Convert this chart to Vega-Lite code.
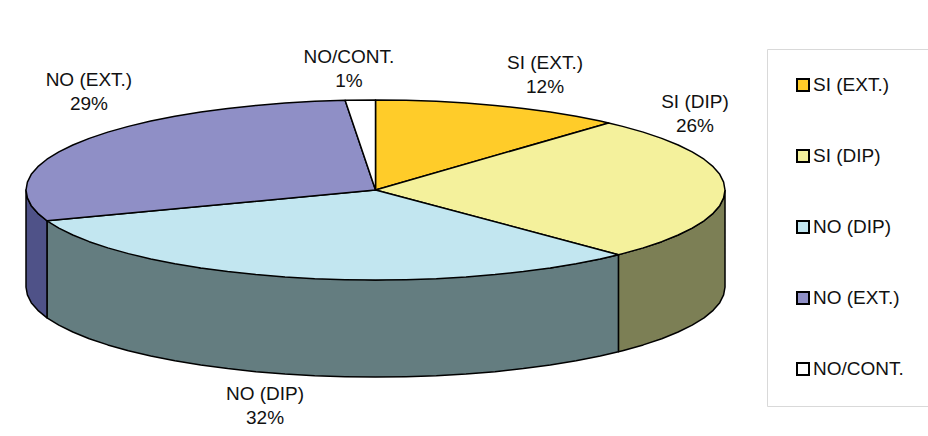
{"$schema":"https://vega.github.io/schema/vega-lite/v6.json","width":928,"height":436,"padding":0,"autosize":{"type":"none"},"background":"white","config":{"view":{"stroke":null},"font":"Liberation Sans"},
"datasets":{"faces":[
{"s":"SI (EXT.)","o":0,"x":0,"y":0},{"s":"SI (EXT.)","o":1,"x":0,"y":1},{"s":"SI (EXT.)","o":2,"x":0.087,"y":0.996},{"s":"SI (EXT.)","o":3,"x":0.174,"y":0.985},{"s":"SI (EXT.)","o":4,"x":0.259,"y":0.966},{"s":"SI (EXT.)","o":5,"x":0.342,"y":0.94},{"s":"SI (EXT.)","o":6,"x":0.423,"y":0.906},{"s":"SI (EXT.)","o":7,"x":0.5,"y":0.866},{"s":"SI (EXT.)","o":8,"x":0.574,"y":0.819},{"s":"SI (EXT.)","o":9,"x":0.643,"y":0.766},{"s":"SI (EXT.)","o":10,"x":0.667,"y":0.745},{"s":"SI (EXT.)","o":11,"x":0,"y":0},
{"s":"SI (DIP)","o":0,"x":0,"y":0},{"s":"SI (DIP)","o":1,"x":0.667,"y":0.745},{"s":"SI (DIP)","o":2,"x":0.707,"y":0.707},{"s":"SI (DIP)","o":3,"x":0.766,"y":0.643},{"s":"SI (DIP)","o":4,"x":0.819,"y":0.574},{"s":"SI (DIP)","o":5,"x":0.866,"y":0.5},{"s":"SI (DIP)","o":6,"x":0.906,"y":0.423},{"s":"SI (DIP)","o":7,"x":0.94,"y":0.342},{"s":"SI (DIP)","o":8,"x":0.966,"y":0.259},{"s":"SI (DIP)","o":9,"x":0.985,"y":0.174},{"s":"SI (DIP)","o":10,"x":0.996,"y":0.087},{"s":"SI (DIP)","o":11,"x":1,"y":0},{"s":"SI (DIP)","o":12,"x":0.996,"y":-0.087},{"s":"SI (DIP)","o":13,"x":0.985,"y":-0.174},{"s":"SI (DIP)","o":14,"x":0.966,"y":-0.259},{"s":"SI (DIP)","o":15,"x":0.94,"y":-0.342},{"s":"SI (DIP)","o":16,"x":0.906,"y":-0.423},{"s":"SI (DIP)","o":17,"x":0.866,"y":-0.5},{"s":"SI (DIP)","o":18,"x":0.819,"y":-0.574},{"s":"SI (DIP)","o":19,"x":0.766,"y":-0.643},{"s":"SI (DIP)","o":20,"x":0.707,"y":-0.707},{"s":"SI (DIP)","o":21,"x":0.695,"y":-0.719},{"s":"SI (DIP)","o":22,"x":0,"y":0},
{"s":"NO (DIP)","o":0,"x":0,"y":0},{"s":"NO (DIP)","o":1,"x":0.695,"y":-0.719},{"s":"NO (DIP)","o":2,"x":0.643,"y":-0.766},{"s":"NO (DIP)","o":3,"x":0.574,"y":-0.819},{"s":"NO (DIP)","o":4,"x":0.5,"y":-0.866},{"s":"NO (DIP)","o":5,"x":0.423,"y":-0.906},{"s":"NO (DIP)","o":6,"x":0.342,"y":-0.94},{"s":"NO (DIP)","o":7,"x":0.259,"y":-0.966},{"s":"NO (DIP)","o":8,"x":0.174,"y":-0.985},{"s":"NO (DIP)","o":9,"x":0.087,"y":-0.996},{"s":"NO (DIP)","o":10,"x":0,"y":-1},{"s":"NO (DIP)","o":11,"x":-0.087,"y":-0.996},{"s":"NO (DIP)","o":12,"x":-0.174,"y":-0.985},{"s":"NO (DIP)","o":13,"x":-0.259,"y":-0.966},{"s":"NO (DIP)","o":14,"x":-0.342,"y":-0.94},{"s":"NO (DIP)","o":15,"x":-0.423,"y":-0.906},{"s":"NO (DIP)","o":16,"x":-0.5,"y":-0.866},{"s":"NO (DIP)","o":17,"x":-0.574,"y":-0.819},{"s":"NO (DIP)","o":18,"x":-0.643,"y":-0.766},{"s":"NO (DIP)","o":19,"x":-0.707,"y":-0.707},{"s":"NO (DIP)","o":20,"x":-0.766,"y":-0.643},{"s":"NO (DIP)","o":21,"x":-0.819,"y":-0.574},{"s":"NO (DIP)","o":22,"x":-0.866,"y":-0.5},{"s":"NO (DIP)","o":23,"x":-0.906,"y":-0.423},{"s":"NO (DIP)","o":24,"x":-0.94,"y":-0.342},{"s":"NO (DIP)","o":25,"x":0,"y":0},
{"s":"NO (EXT.)","o":0,"x":0,"y":0},{"s":"NO (EXT.)","o":1,"x":-0.94,"y":-0.342},{"s":"NO (EXT.)","o":2,"x":-0.966,"y":-0.259},{"s":"NO (EXT.)","o":3,"x":-0.985,"y":-0.174},{"s":"NO (EXT.)","o":4,"x":-0.996,"y":-0.087},{"s":"NO (EXT.)","o":5,"x":-1,"y":0},{"s":"NO (EXT.)","o":6,"x":-0.996,"y":0.087},{"s":"NO (EXT.)","o":7,"x":-0.985,"y":0.174},{"s":"NO (EXT.)","o":8,"x":-0.966,"y":0.259},{"s":"NO (EXT.)","o":9,"x":-0.94,"y":0.342},{"s":"NO (EXT.)","o":10,"x":-0.906,"y":0.423},{"s":"NO (EXT.)","o":11,"x":-0.866,"y":0.5},{"s":"NO (EXT.)","o":12,"x":-0.819,"y":0.574},{"s":"NO (EXT.)","o":13,"x":-0.766,"y":0.643},{"s":"NO (EXT.)","o":14,"x":-0.707,"y":0.707},{"s":"NO (EXT.)","o":15,"x":-0.643,"y":0.766},{"s":"NO (EXT.)","o":16,"x":-0.574,"y":0.819},{"s":"NO (EXT.)","o":17,"x":-0.5,"y":0.866},{"s":"NO (EXT.)","o":18,"x":-0.423,"y":0.906},{"s":"NO (EXT.)","o":19,"x":-0.342,"y":0.94},{"s":"NO (EXT.)","o":20,"x":-0.259,"y":0.966},{"s":"NO (EXT.)","o":21,"x":-0.174,"y":0.985},{"s":"NO (EXT.)","o":22,"x":-0.087,"y":0.996},{"s":"NO (EXT.)","o":23,"x":0,"y":0},
{"s":"NO/CONT.","o":0,"x":0,"y":0},{"s":"NO/CONT.","o":1,"x":-0.087,"y":0.996},{"s":"NO/CONT.","o":2,"x":0,"y":1},{"s":"NO/CONT.","o":3,"x":0,"y":0}
],
"walls":[
{"s":"SI (DIP)","o":0,"x":1,"y":0},{"s":"SI (DIP)","o":1,"x":0.996,"y":-0.087},{"s":"SI (DIP)","o":2,"x":0.985,"y":-0.174},{"s":"SI (DIP)","o":3,"x":0.966,"y":-0.259},{"s":"SI (DIP)","o":4,"x":0.94,"y":-0.342},{"s":"SI (DIP)","o":5,"x":0.906,"y":-0.423},{"s":"SI (DIP)","o":6,"x":0.866,"y":-0.5},{"s":"SI (DIP)","o":7,"x":0.819,"y":-0.574},{"s":"SI (DIP)","o":8,"x":0.766,"y":-0.643},{"s":"SI (DIP)","o":9,"x":0.707,"y":-0.707},{"s":"SI (DIP)","o":10,"x":0.695,"y":-0.719},{"s":"SI (DIP)","o":11,"x":0.695,"y":-1.797},{"s":"SI (DIP)","o":12,"x":0.707,"y":-1.785},{"s":"SI (DIP)","o":13,"x":0.766,"y":-1.721},{"s":"SI (DIP)","o":14,"x":0.819,"y":-1.652},{"s":"SI (DIP)","o":15,"x":0.866,"y":-1.578},{"s":"SI (DIP)","o":16,"x":0.906,"y":-1.501},{"s":"SI (DIP)","o":17,"x":0.94,"y":-1.42},{"s":"SI (DIP)","o":18,"x":0.966,"y":-1.337},{"s":"SI (DIP)","o":19,"x":0.985,"y":-1.252},{"s":"SI (DIP)","o":20,"x":0.996,"y":-1.165},{"s":"SI (DIP)","o":21,"x":1,"y":-1.078},{"s":"SI (DIP)","o":22,"x":1,"y":0},
{"s":"NO (DIP)","o":0,"x":0.695,"y":-0.719},{"s":"NO (DIP)","o":1,"x":0.643,"y":-0.766},{"s":"NO (DIP)","o":2,"x":0.5,"y":-0.866},{"s":"NO (DIP)","o":3,"x":0,"y":-1},{"s":"NO (DIP)","o":4,"x":-0.5,"y":-0.866},{"s":"NO (DIP)","o":5,"x":-0.94,"y":-0.342},{"s":"NO (DIP)","o":6,"x":-0.94,"y":-1.42},{"s":"NO (DIP)","o":7,"x":-0.906,"y":-1.501},{"s":"NO (DIP)","o":8,"x":-0.866,"y":-1.578},{"s":"NO (DIP)","o":9,"x":-0.819,"y":-1.652},{"s":"NO (DIP)","o":10,"x":-0.766,"y":-1.721},{"s":"NO (DIP)","o":11,"x":-0.707,"y":-1.785},{"s":"NO (DIP)","o":12,"x":-0.643,"y":-1.844},{"s":"NO (DIP)","o":13,"x":-0.574,"y":-1.897},{"s":"NO (DIP)","o":14,"x":-0.5,"y":-1.944},{"s":"NO (DIP)","o":15,"x":-0.423,"y":-1.984},{"s":"NO (DIP)","o":16,"x":-0.342,"y":-2.018},{"s":"NO (DIP)","o":17,"x":-0.259,"y":-2.044},{"s":"NO (DIP)","o":18,"x":-0.174,"y":-2.063},{"s":"NO (DIP)","o":19,"x":-0.087,"y":-2.074},{"s":"NO (DIP)","o":20,"x":0,"y":-2.078},{"s":"NO (DIP)","o":21,"x":0.087,"y":-2.074},{"s":"NO (DIP)","o":22,"x":0.174,"y":-2.063},{"s":"NO (DIP)","o":23,"x":0.259,"y":-2.044},{"s":"NO (DIP)","o":24,"x":0.342,"y":-2.018},{"s":"NO (DIP)","o":25,"x":0.423,"y":-1.984},{"s":"NO (DIP)","o":26,"x":0.5,"y":-1.944},{"s":"NO (DIP)","o":27,"x":0.574,"y":-1.897},{"s":"NO (DIP)","o":28,"x":0.643,"y":-1.844},{"s":"NO (DIP)","o":29,"x":0.695,"y":-1.797},{"s":"NO (DIP)","o":30,"x":0.695,"y":-0.719},
{"s":"NO (EXT.)","o":0,"x":-0.94,"y":-0.342},{"s":"NO (EXT.)","o":1,"x":-0.966,"y":-0.259},{"s":"NO (EXT.)","o":2,"x":-0.985,"y":-0.174},{"s":"NO (EXT.)","o":3,"x":-0.996,"y":-0.087},{"s":"NO (EXT.)","o":4,"x":-1,"y":0},{"s":"NO (EXT.)","o":5,"x":-1,"y":-1.078},{"s":"NO (EXT.)","o":6,"x":-0.996,"y":-1.165},{"s":"NO (EXT.)","o":7,"x":-0.985,"y":-1.252},{"s":"NO (EXT.)","o":8,"x":-0.966,"y":-1.337},{"s":"NO (EXT.)","o":9,"x":-0.94,"y":-1.42},{"s":"NO (EXT.)","o":10,"x":-0.94,"y":-0.342}
],
"labels":[
{"t":"SI (EXT.)\n12%","x":0.485,"y":1.411},{"t":"SI (DIP)\n26%","x":0.914,"y":0.978},{"t":"NO (DIP)\n32%","x":-0.316,"y":-2.267},{"t":"NO (EXT.)\n29%","x":-0.82,"y":1.222},{"t":"NO/CONT.\n1%","x":-0.076,"y":1.478}
]},
"layer":[
{"data":{"name":"walls"},"mark":{"type":"line","filled":true,"stroke":"black","strokeWidth":1.5,"strokeJoin":"round","clip":false},"encoding":{"x":{"field":"x","type":"quantitative","axis":null,"scale":{"domain":[-1.0744,1.5808],"nice":false,"zero":false}},"y":{"field":"y","type":"quantitative","axis":null,"scale":{"domain":[-2.733,2.111],"nice":false,"zero":false}},"order":{"field":"o","type":"quantitative"},"fill":{"field":"s","type":"nominal","legend":null,"scale":{"domain":["SI (DIP)","NO (DIP)","NO (EXT.)"],"range":["#7C7F55","#647D80","#4F5288"]}}}},
{"data":{"name":"faces"},"mark":{"type":"line","filled":true,"stroke":"black","strokeWidth":1.5,"strokeJoin":"round"},"encoding":{"x":{"field":"x","type":"quantitative","axis":null},"y":{"field":"y","type":"quantitative","axis":null},"order":{"field":"o","type":"quantitative"},"fill":{"field":"s","type":"nominal","scale":{"domain":["SI (EXT.)","SI (DIP)","NO (DIP)","NO (EXT.)","NO/CONT."],"range":["#FFCC29","#F4F19C","#C2E6F0","#8F8FC6","#FFFFFF"]},"legend":{"title":null,"orient":"none","legendX":767,"legendY":49,"padding":26.5,"strokeColor":"#D9D9D9","fillColor":"white","symbolType":"square","symbolSize":144,"symbolStrokeColor":"black","symbolStrokeWidth":2,"symbolOpacity":1,"labelFont":"Liberation Sans","labelFontSize":19,"labelColor":"#111111","labelOffset":0.5,"rowPadding":50,"labelLimit":200}}}},
{"data":{"name":"labels"},"mark":{"type":"text","font":"Liberation Sans","fontSize":19,"color":"#111111","lineBreak":"\n","lineHeight":24,"align":"center","baseline":"middle"},"encoding":{"x":{"field":"x","type":"quantitative","axis":null},"y":{"field":"y","type":"quantitative","axis":null},"text":{"field":"t","type":"nominal"}}},
{"mark":{"type":"rule","color":"#CCCCCC","strokeWidth":1},"encoding":{"y":{"datum":1.989,"type":"quantitative","axis":null}}}
],
"resolve":{"scale":{"fill":"independent"}}}
